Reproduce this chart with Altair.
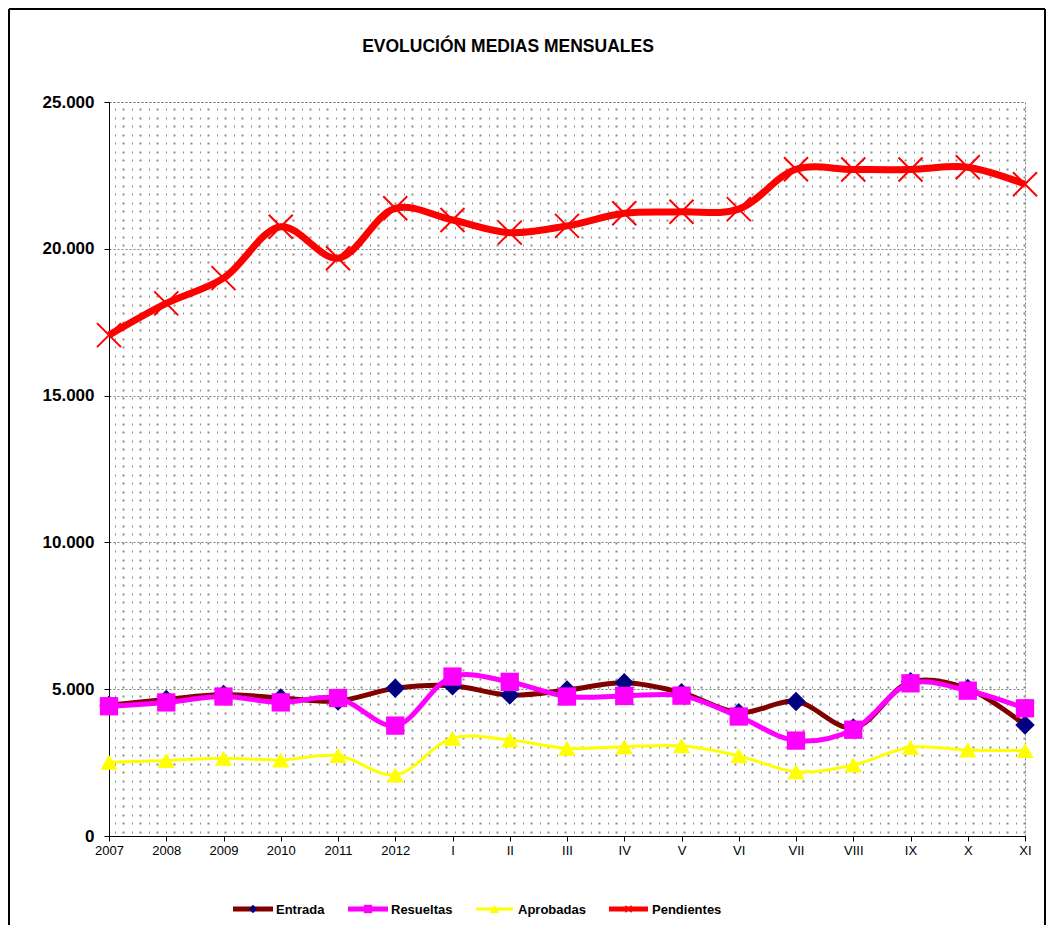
import altair as alt
import pandas as pd
import numpy as np

categories = ["2007", "2008", "2009", "2010", "2011", "2012", "I", "II", "III",
              "IV", "V", "VI", "VII", "VIII", "IX", "X", "XI"]
entrada = [4450, 4650, 4820, 4700, 4600, 5030, 5120, 4800, 4970, 5220, 4880,
           4200, 4580, 3680, 5250, 5020, 3780]
resueltas = [4420, 4550, 4750, 4550, 4700, 3760, 5430, 5250, 4750, 4770, 4780,
             4070, 3250, 3620, 5200, 4950, 4350]
aprobadas = [2510, 2570, 2650, 2590, 2740, 2080, 3330, 3270, 2990, 3040, 3070,
             2730, 2190, 2420, 3020, 2930, 2910]
pendientes = [17060, 18140, 19000, 20750, 19680, 21380, 20980, 20550, 20780,
              21210, 21260, 21350, 22710, 22700, 22700, 22780, 22200]
series_names = ["Entrada", "Resueltas", "Aprobadas", "Pendientes"]
y_ticks = [0, 5000, 10000, 15000, 20000, 25000]
title_text = "EVOLUCIÓN MEDIAS MENSUALES"

rows = []
for name, vals in zip(series_names, [entrada, resueltas, aprobadas, pendientes]):
    for c, v in zip(categories, vals):
        rows.append({"cat": c, "series": name, "value": v})
df = pd.DataFrame(rows)
names_df = pd.DataFrame({"series": series_names})
one_df = pd.DataFrame({"k": [0]})

W, H = 916, 734
FONT = "Liberation Sans, Arial, sans-serif"
X_PATH = "M-1,-1L1,1M-1,1L1,-1"

styles = {
    "Entrada": dict(line="#800000", lw=5, shape="diamond", size=380, fill="#000080",
                    stroke="#000080", sw=0, filled=True, lsize=70, llw=5),
    "Resueltas": dict(line="#FF00FF", lw=5, shape="square", size=335, fill="#FF00FF",
                      stroke="#FF00FF", sw=0, filled=True, lsize=70, llw=5),
    "Aprobadas": dict(line="#FFFF00", lw=3, shape="triangle-up", size=300, fill="#FFFF00",
                      stroke="#FFFF00", sw=0, filled=True, lsize=90, llw=3),
    "Pendientes": dict(line="#FF0000", lw=7, shape=X_PATH, size=576, fill="none",
                       stroke="#FF0000", sw=2, filled=False, lsize=40, llw=5),
}
legend_pos = {
    "Entrada": (124, 164, 167),
    "Resueltas": (239, 279, 282),
    "Aprobadas": (367, 404, 409),
    "Pendientes": (500, 539, 543),
}
LEG_Y = 807

y_scale = alt.Scale(domain=[0, 25000], nice=False, zero=True)
x_scale = alt.Scale(type="point", padding=0)

x_axis = alt.Axis(labelFont=FONT, labelFontSize=13, labelAngle=0, labelColor="black",
                  tickSize=5, tickColor="black", domainColor="black", grid=False,
                  title=None, labelPadding=3)
y_axis = alt.Axis(values=y_ticks,
                  labelExpr="replace(format(datum.value, ','), ',', '.')",
                  labelFont=FONT, labelFontWeight="bold", labelFontSize=17,
                  labelColor="black", tickSize=5, tickColor="black",
                  domainColor="black", grid=True, gridColor="#808080",
                  gridDash=[2, 2], title=None, labelPadding=10)


def xenc():
    return alt.X("cat:O", sort=categories, scale=x_scale, axis=x_axis)


# dotted background texture through a hidden axis grid
tex_vals = [float(v) for v in np.arange(4.25, H, 8.5)]
texture = alt.Chart(one_df).mark_point(opacity=0).transform_calculate(tex="0").encode(
    y=alt.Y("tex:Q", scale=alt.Scale(domain=[0, H], nice=False, zero=False),
            axis=alt.Axis(values=tex_vals, grid=True, gridColor="#8c8c8c",
                          gridDash=[2, 6.5, 1, 7.5], gridWidth=2, labels=False,
                          ticks=False, domain=False, title=None, orient="right"))
)

layers = [texture]
first = True
for name in series_names:
    st = styles[name]
    base = alt.Chart(df).transform_filter(alt.datum.series == name)
    ye = alt.Y("value:Q", scale=y_scale, axis=y_axis if first else None)
    first = False
    line = base.mark_line(color=st["line"], strokeWidth=st["lw"],
                          interpolate="catmull-rom").encode(x=xenc(), y=ye)
    ye2 = alt.Y("value:Q", scale=y_scale, axis=None)
    if st["filled"]:
        pts = base.mark_point(shape=st["shape"], size=st["size"], filled=True,
                              color=st["fill"], opacity=1).encode(x=xenc(), y=ye2)
    else:
        pts = base.mark_point(shape=st["shape"], size=st["size"], filled=False,
                              color=st["stroke"], strokeWidth=st["sw"],
                              opacity=1).encode(x=xenc(), y=ye2)
    layers += [line, pts]

    # legend entry
    x0, x1, xt = legend_pos[name]
    lb = alt.Chart(names_df).transform_filter(alt.datum.series == name)
    layers.append(lb.mark_rule(color=st["line"], strokeWidth=st["llw"]).encode(
        x=alt.value(x0), x2=alt.value(x1), y=alt.value(LEG_Y)))
    if st["filled"]:
        layers.append(lb.mark_point(shape=st["shape"], size=st["lsize"], filled=True,
                                    color=st["fill"], opacity=1).encode(
            x=alt.value((x0 + x1) / 2), y=alt.value(LEG_Y)))
    else:
        layers.append(lb.mark_point(shape=st["shape"], size=st["lsize"], filled=False,
                                    color=st["stroke"], strokeWidth=1.5, opacity=1).encode(
            x=alt.value((x0 + x1) / 2), y=alt.value(LEG_Y)))
    layers.append(lb.mark_text(align="left", baseline="middle", font=FONT,
                               fontSize=13, fontWeight="bold", color="black").encode(
        x=alt.value(xt), y=alt.value(LEG_Y + 1), text="series:N"))

# title
layers.append(alt.Chart(one_df).mark_text(align="center", baseline="alphabetic",
                                          font=FONT, fontSize=17.5, fontWeight="bold",
                                          color="black").encode(
    x=alt.value(399), y=alt.value(-50), text=alt.value(title_text)))

# outer frame (left, top, right)
frame = alt.Chart(one_df)
layers.append(frame.mark_rule(color="black", strokeWidth=2).encode(
    x=alt.value(-100), y=alt.value(-93), y2=alt.value(823)))
layers.append(frame.mark_rule(color="black", strokeWidth=2).encode(
    x=alt.value(-100), x2=alt.value(936), y=alt.value(-93)))
layers.append(frame.mark_rule(color="black", strokeWidth=2).encode(
    x=alt.value(936), y=alt.value(-93), y2=alt.value(823)))

chart = alt.layer(*layers).resolve_scale(y="independent").properties(
    width=W, height=H,
    padding={"left": 101, "top": 94, "right": 21, "bottom": 90},
    autosize=alt.AutoSizeParams(type="none"),
    background="white",
).configure_view(stroke="#808080", strokeDash=[2, 2], strokeWidth=1)

chart.save("out.html", embed_options={"renderer": "svg", "actions": False})
